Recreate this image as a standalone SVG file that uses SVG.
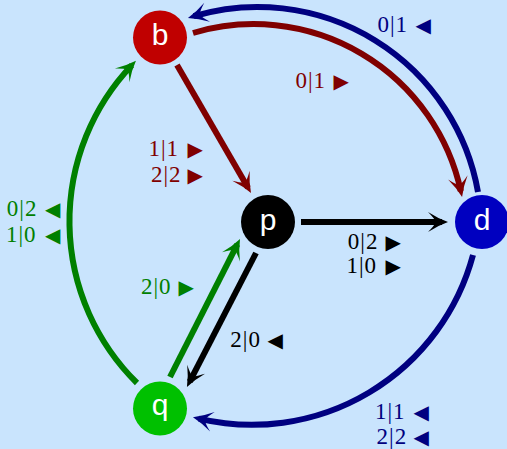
<svg xmlns="http://www.w3.org/2000/svg" width="507" height="449" viewBox="0 0 507 449">
<style>
.edge{fill:none;stroke-width:6}
.node text{font-family:"Liberation Sans",Arial,sans-serif;font-size:30px;fill:#fff;text-anchor:middle}
.lbl{font-family:"Liberation Serif","Times New Roman",serif;font-size:23px;letter-spacing:1px}
.tri{font-family:"DejaVu Sans",sans-serif;font-size:20px;letter-spacing:0}
.cr{fill:#800000}.cb{fill:#000080}.cg{fill:#008000}.ck{fill:#000}
</style>
<defs>
<marker id="aR" viewBox="-16 -12 24 24" refX="0" refY="0" markerWidth="24" markerHeight="24" markerUnits="userSpaceOnUse" orient="auto"><path d="M6,0 Q-4,-3.5 -14,-10 Q-8,-4 -6,0 Q-8,4 -14,10 Q-4,3.5 6,0 Z" fill="#800000"/></marker>
<marker id="aB" viewBox="-16 -12 24 24" refX="0" refY="0" markerWidth="24" markerHeight="24" markerUnits="userSpaceOnUse" orient="auto"><path d="M6,0 Q-4,-3.5 -14,-10 Q-8,-4 -6,0 Q-8,4 -14,10 Q-4,3.5 6,0 Z" fill="#000080"/></marker>
<marker id="aG" viewBox="-16 -12 24 24" refX="0" refY="0" markerWidth="24" markerHeight="24" markerUnits="userSpaceOnUse" orient="auto"><path d="M6,0 Q-4,-3.5 -14,-10 Q-8,-4 -6,0 Q-8,4 -14,10 Q-4,3.5 6,0 Z" fill="#008000"/></marker>
<marker id="aK" viewBox="-16 -12 24 24" refX="0" refY="0" markerWidth="24" markerHeight="24" markerUnits="userSpaceOnUse" orient="auto"><path d="M6,0 Q-4,-3.5 -14,-10 Q-8,-4 -6,0 Q-8,4 -14,10 Q-4,3.5 6,0 Z" fill="#000"/></marker>
</defs>
<rect width="507" height="449" fill="#c9e4fd"/>
<g id="connectors">
<path class="edge" stroke="#800000" marker-end="url(#aR)" d="M177,65 L248,187.8"/>
<path class="edge" stroke="#800000" marker-end="url(#aR)" d="M193,33 A212,212 0 0 1 460.8,191.1"/>
<path class="edge" stroke="#000080" marker-end="url(#aB)" d="M478,192 A224,224 0 0 0 193.7,16.2"/>
<path class="edge" stroke="#000080" marker-end="url(#aB)" d="M473,255 A229,229 0 0 1 198.8,418.6"/>
<path class="edge" stroke="#000" marker-end="url(#aK)" d="M301,222 L442,222"/>
<path class="edge" stroke="#000" marker-end="url(#aK)" d="M256,253 L189.7,381.7"/>
<path class="edge" stroke="#008000" marker-end="url(#aG)" d="M170,377 L237.3,244.4"/>
<path class="edge" stroke="#008000" marker-end="url(#aG)" d="M137,383 A227,227 0 0 1 131.8,65.2"/>
</g>
<g id="labels">
<text class="lbl cb" x="377.5" y="32">0|1 <tspan class="tri" x="415.5">◀</tspan></text>
<text class="lbl cr" x="295.5" y="88">0|1 <tspan class="tri" x="333.5">▶</tspan></text>
<text class="lbl cr" x="148.5" y="156">1|1 <tspan class="tri" x="187.5">▶</tspan></text>
<text class="lbl cr" x="151" y="182">2|2 <tspan class="tri" x="187.5">▶</tspan></text>
<text class="lbl cg" x="6.8" y="216">0|2 <tspan class="tri" x="45">◀</tspan></text>
<text class="lbl cg" x="6" y="242">1|0 <tspan class="tri" x="45">◀</tspan></text>
<text class="lbl ck" x="347.8" y="249">0|2 <tspan class="tri" x="385.5">▶</tspan></text>
<text class="lbl ck" x="346.5" y="273">1|0 <tspan class="tri" x="385.5">▶</tspan></text>
<text class="lbl cg" x="141" y="294">2|0 <tspan class="tri" x="178.5">▶</tspan></text>
<text class="lbl ck" x="230.3" y="347">2|0 <tspan class="tri" x="267.5">◀</tspan></text>
<text class="lbl cb" x="375" y="419">1|1 <tspan class="tri" x="413.5">◀</tspan></text>
<text class="lbl cb" x="376.6" y="444">2|2 <tspan class="tri" x="413.5">◀</tspan></text>
</g>
<g id="node-b" class="node"><circle cx="160" cy="37.5" r="27" fill="#c00000"/><text x="160" y="45">b</text></g>
<g id="node-p" class="node"><circle cx="268" cy="222" r="27" fill="#000"/><text x="268" y="229.5">p</text></g>
<g id="node-d" class="node"><circle cx="482" cy="222" r="27" fill="#0000c0"/><text x="482" y="229.5">d</text></g>
<g id="node-q" class="node"><circle cx="160" cy="408.5" r="27" fill="#00c000"/><text x="160" y="415">q</text></g>
</svg>
